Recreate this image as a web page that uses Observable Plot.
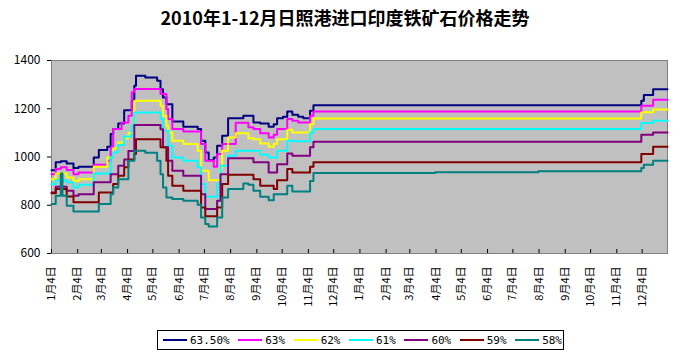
<!DOCTYPE html>
<html>
<head>
<meta charset="utf-8">
<script src="https://cdn.jsdelivr.net/npm/d3@7"></script>
<script src="https://cdn.jsdelivr.net/npm/@observablehq/plot@0.6"></script>
<style>
  html, body { margin: 0; padding: 0; background: #fff; }
  #wrap { position: relative; width: 688px; height: 356px; overflow: hidden; }
  #title { position: absolute; left: 0; width: 690px; top: 5px; text-align: center;
    font-family: "Noto Sans CJK SC", sans-serif; font-weight: bold; font-size: 18px; line-height: 24px; color: #000; }
  #chart { position: absolute; left: 0; top: 0; }
  #legend { position: absolute; left: 157px; top: 330px; width: 400px; height: 18px; border: 1px solid #000;
    display: flex; align-items: center; padding-left: 5px; box-sizing: content-box;
    font-family: "DejaVu Sans Mono", monospace; font-size: 11px; color: #000; }
  .item { display: flex; align-items: center; margin-right: 8.5px; }
  .sw { width: 24px; height: 2px; margin-right: 3px; }
</style>
</head>
<body>
<div id="wrap">
  <div id="chart"></div>
  <div id="title">2010年1-12月日照港进口印度铁矿石价格走势</div>
  <div id="legend"></div>
</div>
<script>
const dates = ["2010-01-04","2010-01-09","2010-01-15","2010-01-17","2010-01-22","2010-01-30","2010-02-05","2010-02-23","2010-03-01","2010-03-11",
  "2010-03-15","2010-03-18","2010-03-24","2010-03-28","2010-03-31","2010-04-05","2010-04-09","2010-04-12","2010-04-14","2010-04-25",
  "2010-05-09","2010-05-13","2010-05-16","2010-05-20","2010-05-22","2010-05-27","2010-06-09","2010-06-26","2010-06-30","2010-07-05",
  "2010-07-09","2010-07-15","2010-07-19","2010-07-23","2010-07-25","2010-08-01","2010-08-10","2010-08-19","2010-08-25","2010-08-31",
  "2010-09-08","2010-09-18","2010-09-24","2010-09-28","2010-10-05","2010-10-10","2010-10-16","2010-10-23","2010-10-29","2010-11-06",
  "2010-11-10","2011-04-03","2011-08-03","2011-12-03","2011-12-06","2011-12-17","2012-01-03"];

const s6350 = [945,978,982,982,973,954,960,998,1029,1042,
  1095,1116,1139,1139,1194,1194,1233,1295,1337,1330,
  1316,1281,1247,1219,1219,1147,1125,1116,1067,1019,
  987,998,1047,1047,1088,1161,1161,1171,1171,1143,
  1139,1125,1136,1161,1167,1189,1175,1167,1161,1192,
  1215,1215,1215,1233,1257,1281,1281];
const s63 = [929,950,957,957,946,929,936,968,968,984,
  1040,1116,1116,1143,1143,1171,1268,1282,1282,1282,
  1282,1261,1261,1199,1157,1116,1106,1106,1054,984,
  984,960,1012,1012,1054,1054,1142,1142,1123,1116,
  1098,1081,1092,1116,1116,1157,1150,1143,1143,1171,
  1189,1189,1189,1212,1212,1237,1237];
const s62 = [908,932,932,932,915,901,908,960,960,998,
  998,1036,1060,1060,1078,1100,1100,1233,1233,1233,
  1233,1212,1171,1130,1102,1067,1054,1026,943,943,
  904,904,904,957,1026,1081,1098,1098,1078,1074,
  1056,1042,1054,1074,1074,1113,1102,1102,1102,1136,
  1160,1160,1160,1185,1185,1197,1197];
const s61 = [888,904,904,904,895,874,885,932,932,932,
  998,1020,1050,1050,1085,1085,1130,1184,1184,1184,
  1184,1157,1109,1109,1047,998,984,957,888,835,
  835,835,888,964,964,1005,1026,1026,1026,1026,
  1009,998,998,1026,1026,1067,1065,1065,1065,1102,
  1116,1116,1116,1141,1141,1150,1150];
const s60 = [853,877,877,877,860,839,846,895,895,895,
  929,929,964,964,990,1025,1025,1133,1133,1133,
  1133,1115,1040,1040,984,943,922,922,846,784,
  784,784,819,929,929,995,995,995,995,978,
  978,936,936,970,970,1015,1005,1005,1005,1040,
  1063,1063,1063,1092,1092,1102,1102];
const s59 = [850,867,867,867,836,812,812,812,853,853,
  853,888,922,922,957,990,990,1012,1074,1074,
  1074,1040,1040,984,922,881,860,860,791,754,
  754,754,791,791,888,926,926,926,926,908,
  881,881,867,904,904,950,936,936,936,960,
  978,978,978,1012,1012,1042,1042];
const s58 = [805,839,932,839,798,774,774,774,805,805,
  846,874,908,908,908,984,984,1026,1026,1018,
  984,929,874,832,832,826,819,802,749,722,
  712,712,749,749,832,867,867,890,885,860,
  835,821,846,846,846,881,857,857,857,901,
  934,937,941,954,968,984,984];

const seriesNames = ["63.50%", "63%", "62%", "61%", "60%", "59%", "58%"];
const seriesValues = [s6350, s63, s62, s61, s60, s59, s58];
const seriesColors = ["#000080", "#FF00FF", "#FFFF00", "#00FFFF", "#800080", "#800000", "#008080"];
const tickDates = ["2010-01-04","2010-02-04","2010-03-04","2010-04-04","2010-05-04","2010-06-04","2010-07-04","2010-08-04",
  "2010-09-04","2010-10-04","2010-11-04","2010-12-04","2011-01-04","2011-02-04","2011-03-04","2011-04-04",
  "2011-05-04","2011-06-04","2011-07-04","2011-08-04","2011-09-04","2011-10-04","2011-11-04","2011-12-04"];
const yTicks = [600, 800, 1000, 1200, 1400];
const titleText = "2010年1-12月日照港进口印度铁矿石价格走势";

const rows = [];
seriesNames.forEach((name, si) => {
  dates.forEach((d, i) => rows.push({date: new Date(d), value: seriesValues[si][i], series: name}));
});

const chart = Plot.plot({
  width: 688,
  height: 356,
  marginLeft: 51,
  marginRight: 21,
  marginTop: 60,
  marginBottom: 103,
  style: {fontFamily: "'Noto Sans CJK SC', sans-serif", fontSize: "12px", background: "transparent", color: "#000"},
  x: {type: "utc", domain: [new Date(dates[0]), new Date(dates[dates.length - 1])]},
  y: {domain: [600, 1400]},
  color: {domain: seriesNames, range: seriesColors},
  marks: [
    Plot.frame({fill: "#C0C0C0", stroke: "#808080"}),
    Plot.line(rows, {x: "date", y: "value", z: "series", stroke: "series", strokeWidth: 2, curve: "step-after"}),
    Plot.axisY({ticks: yTicks, tickFormat: d => String(d), tickSize: 4, tickPadding: 7, line: true, label: null, fontSize: 12}),
    Plot.axisX({ticks: tickDates.map(d => new Date(d)),
      tickFormat: d => `${d.getUTCMonth() + 1}月${d.getUTCDate()}日`,
      tickRotate: -90, tickSize: -4, tickPadding: 17, line: true, label: null, fontSize: 11})
  ]
});
document.getElementById("chart").appendChild(chart);
document.getElementById("title").textContent = titleText;

const legend = document.getElementById("legend");
seriesNames.forEach((name, i) => {
  const item = document.createElement("div");
  item.className = "item";
  const sw = document.createElement("div");
  sw.className = "sw";
  sw.style.background = seriesColors[i];
  const t = document.createElement("span");
  t.textContent = name;
  item.appendChild(sw);
  item.appendChild(t);
  legend.appendChild(item);
});
</script>
</body>
</html>
